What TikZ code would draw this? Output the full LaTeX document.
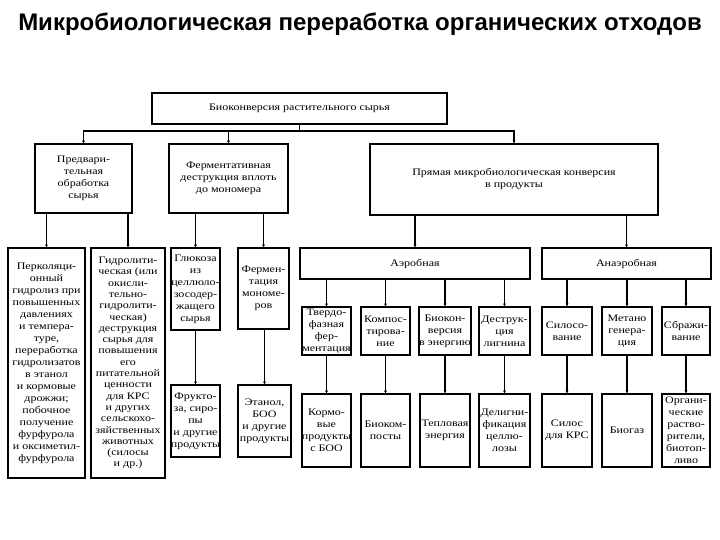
\documentclass[tikz,border=0pt]{standalone}
\usepackage{fontspec}
\setmainfont{Liberation Serif}[FakeStretch=1.2]
\newfontfamily\titlefont{Liberation Sans}
\usetikzlibrary{arrows.meta}
\begin{document}
\begin{tikzpicture}[x=1pt,y=-1pt,
  box/.style={draw,line width=1.2pt,align=center,inner sep=0pt,font=\fontsize{10}{12}\selectfont},
  conn/.style={line width=1.2pt,-{Stealth[length=3pt,width=2.8pt]}},
  plain/.style={line width=1.2pt}]
\useasboundingbox (0,0) rectangle (720,540);
\node[font=\titlefont\bfseries\fontsize{24}{28}\selectfont] (title) at (360,24) {Микробиологическая переработка органических отходов};
% level 0
\node[box,minimum width=295,minimum height=31] (top) at (299.5,108.5) {Биоконверсия растительного сырья};
% level 1
\node[box,minimum width=97,minimum height=69] (b1) at (83.5,178.5) {Предвари-\\тельная\\обработка\\сырья};
\node[box,minimum width=119,minimum height=69] (b2) at (228.5,178.5) {Ферментативная\\деструкция вплоть\\до мономера};
\node[box,minimum width=288,minimum height=71] (b3) at (514,179.5) {Прямая микробиологическая конверсия\\в продукты};
% columns
\node[box,minimum width=77,minimum height=230] (c1) at (46.5,363) {Перколяци-\\онный\\гидролиз при\\повышенных\\давлениях\\и темпера-\\туре,\\переработка\\гидролизатов\\в этанол\\и кормовые\\дрожжи;\\побочное\\получение\\фурфурола\\и оксиметил-\\фурфурола};
\node[box,minimum width=74,minimum height=230,font=\fontsize{10}{11.3}\selectfont] (c2) at (128,363) {Гидролити-\\ческая (или\\окисли-\\тельно-\\гидролити-\\ческая)\\деструкция\\сырья для\\повышения\\его\\питательной\\ценности\\для КРС\\и других\\сельскохо-\\зяйственных\\животных\\(силосы\\и др.)};
\node[box,minimum width=49,minimum height=82] (c3u) at (195.5,289) {Глюкоза\\из\\целлюло-\\зосодер-\\жащего\\сырья};
\node[box,minimum width=49,minimum height=72] (c3l) at (195.5,421) {Фрукто-\\за, сиро-\\пы\\и другие\\продукты};
\node[box,minimum width=51,minimum height=81] (c4u) at (263.5,288.5) {Фермен-\\тация\\мономе-\\ров};
\node[box,minimum width=53,minimum height=72] (c4l) at (264.5,421) {Этанол,\\БОО\\и другие\\продукты};
% aerobic / anaerobic
\node[box,minimum width=230,minimum height=31] (aer) at (415,263.5) {Аэробная};
\node[box,minimum width=169,minimum height=31] (ana) at (626.5,263.5) {Анаэробная};
\node[box,minimum width=49,minimum height=48] (a1) at (326.5,331) {Твердо-\\фазная\\фер-\\ментация};
\node[box,minimum width=49,minimum height=48] (a2) at (385.5,331) {Компос-\\тирова-\\ние};
\node[box,minimum width=50,minimum height=48] (a3) at (445,331) {Биокон-\\версия\\в энергию};
\node[box,minimum width=51,minimum height=48] (a4) at (504.5,331) {Деструк-\\ция\\лигнина};
\node[box,minimum width=50,minimum height=48] (n1) at (567,331) {Силосо-\\вание};
\node[box,minimum width=50,minimum height=48] (n2) at (627,331) {Метано\\генера-\\ция};
\node[box,minimum width=48,minimum height=48] (n3) at (686,331) {Сбражи-\\вание};
% bottom row
\node[box,minimum width=49,minimum height=73] (p1) at (326.5,430.5) {Кормо-\\вые\\продукты\\с БОО};
\node[box,minimum width=49,minimum height=73] (p2) at (385.5,430.5) {Биоком-\\посты};
\node[box,minimum width=50,minimum height=73] (p3) at (445,430.5) {Тепловая\\энергия};
\node[box,minimum width=51,minimum height=73] (p4) at (504.5,430.5) {Делигни-\\фикация\\целлю-\\лозы};
\node[box,minimum width=50,minimum height=73] (q1) at (567,430.5) {Силос\\для КРС};
\node[box,minimum width=50,minimum height=73] (q2) at (627,430.5) {Биогаз};
\node[box,minimum width=48,minimum height=73] (q3) at (686,430.5) {Органи-\\ческие\\раство-\\рители,\\биотоп-\\ливо};
% connectors
\coordinate (bus) at (299.5,131);
\draw[plain] (top.south) -- (bus);
\draw[conn] (bus) -| (b1.north);
\draw[conn] (bus) -| (b2.north);
\draw[conn] (bus) -| (b3.north);
\foreach \p/\c in {b1/c1,b1/c2,b2/c3u,b2/c4u,b3/aer,b3/ana,aer/a1,aer/a2,aer/a3,aer/a4,ana/n1,ana/n2,ana/n3,a1/p1,a2/p2,a3/p3,a4/p4,n1/q1,n2/q2,n3/q3,c3u/c3l,c4u/c4l}
  \draw[conn] (\p.south -| \c.north) -- (\c.north);
\end{tikzpicture}
\end{document}
